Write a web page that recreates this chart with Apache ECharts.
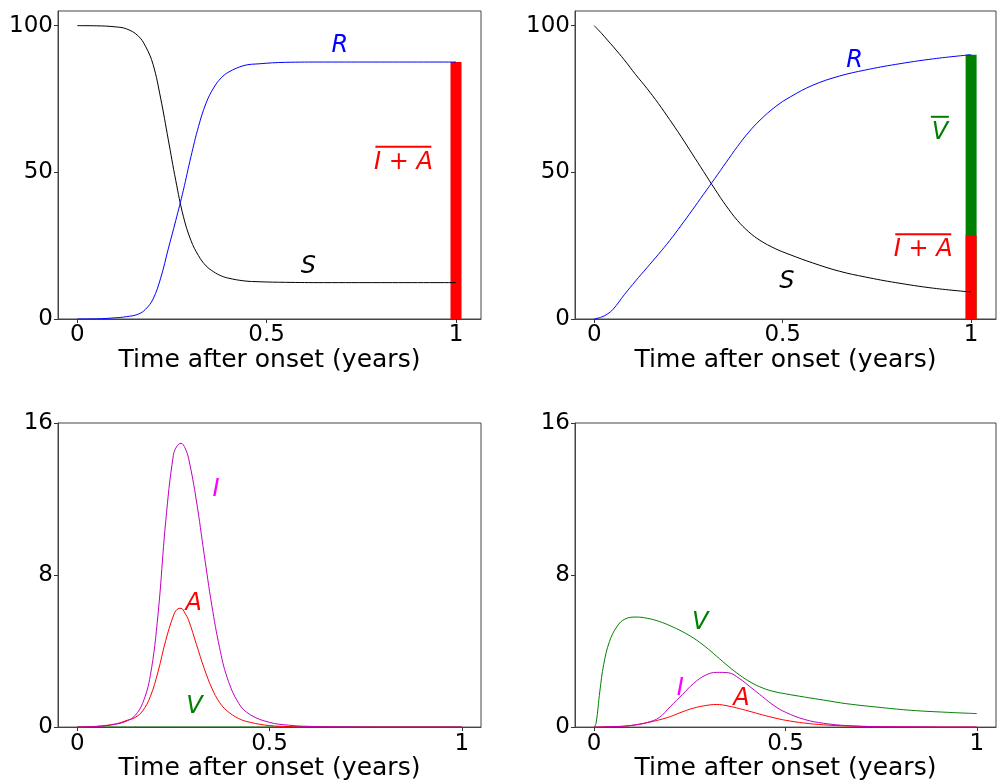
<!DOCTYPE html>
<html>
<head>
<meta charset="utf-8">
<script src="https://cdn.jsdelivr.net/npm/echarts@6/dist/echarts.min.js"></script>
<style>
  html, body { margin: 0; padding: 0; background: #fff; }
  #chart { width: 997px; height: 782px; }
</style>
</head>
<body>
<div id="chart"></div>
<script>
// ---- values ----

// top-left: S and R, no vaccination
const tlTime = [0, 0.05, 0.1, 0.13, 0.16, 0.18, 0.2, 0.22, 0.24, 0.26, 0.28, 0.3, 0.32, 0.34, 0.36, 0.38, 0.4, 0.44, 0.48, 0.55, 0.65, 0.8, 1.0];
const tlS = [100, 99.95, 99.6, 98.9, 96.6, 93.0, 86.8, 75.3, 61.3, 47.2, 35.0, 26.8, 21.6, 18.1, 16.1, 14.7, 13.9, 13.0, 12.7, 12.5, 12.4, 12.4, 12.4];
const tlR = [0, 0.05, 0.4, 0.8, 1.6, 3.3, 6.8, 13.9, 23.8, 33.6, 43.9, 55.3, 65.6, 73.6, 78.8, 82.2, 84.2, 86.4, 87.0, 87.5, 87.6, 87.6, 87.6];
const tlBarIA = [87.6];

// top-right: S and R, with vaccination
const trTime = [0, 0.02, 0.035, 0.05, 0.08, 0.11, 0.14, 0.17, 0.2, 0.23, 0.26, 0.29, 0.32, 0.35, 0.38, 0.41, 0.44, 0.48, 0.52, 0.58, 0.65, 0.72, 0.8, 0.9, 1.0];
const trS = [100, 97.3, 95.1, 92.9, 88.3, 83.3, 78.6, 73.5, 68.0, 62.3, 56.3, 50.3, 44.3, 38.6, 33.6, 29.7, 26.8, 24.0, 21.9, 19.1, 16.3, 14.3, 12.4, 10.5, 9.2];
const trR = [0, 0.7, 1.7, 3.3, 8.3, 13.0, 17.5, 22.0, 26.7, 31.8, 37.1, 42.5, 47.9, 53.4, 58.8, 63.7, 67.8, 72.3, 75.7, 79.7, 82.8, 84.9, 86.8, 88.7, 90.1];
const trBarIA = [28.5];
const trBarV = [61.6];

// bottom-left: I, A, V, no vaccination
const blTime = [0, 0.05, 0.1, 0.13, 0.15, 0.17, 0.19, 0.21, 0.23, 0.25, 0.26, 0.27, 0.28, 0.29, 0.31, 0.33, 0.35, 0.37, 0.39, 0.42, 0.45, 0.5, 0.55, 0.6, 0.7, 0.85, 1.0];
const blI = [0, 0.03, 0.15, 0.33, 0.6, 1.25, 2.7, 5.9, 10.8, 14.3, 14.8, 14.93, 14.7, 14.1, 11.9, 9.1, 6.4, 4.2, 2.6, 1.25, 0.65, 0.25, 0.1, 0.04, 0.01, 0, 0];
const blA = [0, 0.04, 0.17, 0.36, 0.5, 0.85, 1.6, 2.9, 4.55, 5.85, 6.2, 6.25, 6.0, 5.6, 4.35, 3.1, 2.05, 1.3, 0.85, 0.45, 0.25, 0.08, 0.03, 0.01, 0, 0, 0];
const blV = [0, 0, 0, 0, 0, 0, 0, 0, 0, 0, 0, 0, 0, 0, 0, 0, 0, 0, 0, 0, 0, 0, 0, 0, 0, 0, 0];

// bottom-right: I, A, V, with vaccination
const brTime = [0, 0.005, 0.015, 0.025, 0.04, 0.06, 0.08, 0.11, 0.14, 0.17, 0.2, 0.23, 0.26, 0.29, 0.32, 0.35, 0.38, 0.41, 0.44, 0.47, 0.5, 0.55, 0.6, 0.66, 0.75, 0.83, 0.92, 1.0];
const brV = [0, 0.2, 1.9, 3.3, 4.5, 5.3, 5.68, 5.79, 5.72, 5.56, 5.32, 5.03, 4.68, 4.24, 3.73, 3.21, 2.74, 2.35, 2.06, 1.87, 1.75, 1.58, 1.42, 1.23, 1.03, 0.88, 0.78, 0.71];
const brI = [0, 0, 0, 0.01, 0.02, 0.03, 0.05, 0.13, 0.25, 0.5, 1.1, 1.7, 2.3, 2.72, 2.88, 2.86, 2.55, 2.08, 1.6, 1.13, 0.78, 0.4, 0.2, 0.08, 0.02, 0.01, 0, 0];
const brA = [0, 0, 0, 0.01, 0.02, 0.03, 0.05, 0.12, 0.24, 0.38, 0.56, 0.8, 1.0, 1.13, 1.19, 1.11, 0.97, 0.81, 0.64, 0.49, 0.36, 0.21, 0.12, 0.06, 0.02, 0.01, 0, 0];

const xTicks = [0, 0.5, 1];
const topYTicks = [0, 50, 100];
const botYTicks = [0, 8, 16];

// ---- chart ----
const FONT = 'DejaVu Sans';
const C = { S: '#000000', R: '#0000ff', I: '#bf00bf', Ilabel: '#ff00ff', A: '#ff0000', V: '#008000' };
const SPINE = '#444';

const zip = (t, v) => t.map((x, i) => [x, v[i]]);

const grids = [
  { left: 58, top: 11, width: 423, height: 308 },
  { left: 575, top: 11, width: 421, height: 308 },
  { left: 58, top: 423, width: 423, height: 308 },
  { left: 575, top: 423, width: 421, height: 308 }
].map(g => Object.assign({ show: true, borderColor: SPINE, borderWidth: 1, backgroundColor: '#fff' }, g));

function xAxis(i, min, max) {
  return {
    type: 'value', gridIndex: i, min: min, max: max,
    name: 'Time after onset (years)', nameLocation: 'middle', nameGap: 27,
    nameTextStyle: { fontFamily: FONT, fontSize: 25, color: '#000' },
    axisLine: { show: true, onZero: false, lineStyle: { color: SPINE, width: 1 } },
    axisTick: { show: true, length: 4, customValues: xTicks, lineStyle: { color: '#333' } },
    axisLabel: { customValues: xTicks, margin: 5, fontFamily: FONT, fontSize: 23, color: '#000',
      formatter: v => String(v) },
    splitLine: { show: false }
  };
}
function yAxis(i, max, ticks) {
  return {
    type: 'value', gridIndex: i, min: 0, max: max,
    axisLine: { show: true, onZero: false, lineStyle: { color: SPINE, width: 1 } },
    axisTick: { show: true, length: 4, customValues: ticks, lineStyle: { color: '#333' } },
    axisLabel: { customValues: ticks, margin: 5, fontFamily: FONT, fontSize: 23, color: '#000' },
    splitLine: { show: false }
  };
}

function line(i, t, v, color) {
  return {
    type: 'line', xAxisIndex: i, yAxisIndex: i, data: zip(t, v),
    showSymbol: false, smooth: 0.4, silent: true,
    lineStyle: { color: color, width: 1 }, z: 3
  };
}
// bars sit on top of each other at t = 1; the lower block is drawn last
function bar(i, v, color, z) {
  return {
    type: 'bar', xAxisIndex: i, yAxisIndex: i, barWidth: 11, barGap: '-100%',
    data: v.map(y => [1, y]), itemStyle: { color: color }, silent: true, z: z
  };
}

const txt = { fontFamily: FONT, fontSize: 24, fontStyle: 'italic' };
function labels(i, items) {
  return {
    type: 'scatter', xAxisIndex: i, yAxisIndex: i, symbolSize: 0, silent: true, z: 10,
    itemStyle: { opacity: 1 },
    data: items.map(it => ({
      value: [it.t, it.v],
      label: Object.assign({
        show: true, position: 'inside', color: it.color, formatter: it.text,
        rich: it.bar ? {
          o: { width: it.bar, height: 2, lineHeight: 6, backgroundColor: it.color },
          t: Object.assign({ color: it.color, lineHeight: 26 }, txt)
        } : undefined
      }, txt)
    }))
  };
}

const option = {
  animation: false,
  backgroundColor: '#fff',
  grid: grids,
  xAxis: [xAxis(0, -0.051, 1.066), xAxis(1, -0.051, 1.066), xAxis(2, -0.05, 1.05), xAxis(3, -0.05, 1.05)],
  yAxis: [yAxis(0, 105, topYTicks), yAxis(1, 105, topYTicks), yAxis(2, 16, botYTicks), yAxis(3, 16, botYTicks)],
  series: [
    bar(0, tlBarIA, C.A, 2),
    line(0, tlTime, tlS, C.S),
    line(0, tlTime, tlR, C.R),
    labels(0, [
      { text: 'R', t: 0.693, v: 93.2, color: C.R },
      { text: 'S', t: 0.61, v: 17.9, color: C.S },
      { text: '{o|\u00a0}\n{t|I + A}', t: 0.861, v: 54.3, color: C.A, bar: 56 }
    ]),

    bar(1, trBarV.map((v, k) => v + trBarIA[k]), C.V, 1),
    bar(1, trBarIA, C.A, 2),
    line(1, trTime, trS, C.S),
    line(1, trTime, trR, C.R),
    labels(1, [
      { text: 'R', t: 0.691, v: 88.1, color: C.R },
      { text: 'S', t: 0.511, v: 12.8, color: C.S },
      { text: '{o|\u00a0}\n{t|V}', t: 0.917, v: 64.5, color: C.V, bar: 18 },
      { text: '{o|\u00a0}\n{t|I + A}', t: 0.873, v: 24.5, color: C.A, bar: 56 }
    ]),

    line(2, blTime, blV, C.V),
    line(2, blTime, blA, C.A),
    line(2, blTime, blI, C.I),
    labels(2, [
      { text: 'I', t: 0.361, v: 12.5, color: C.Ilabel },
      { text: 'A', t: 0.303, v: 6.5, color: C.A },
      { text: 'V', t: 0.305, v: 1.05, color: C.V }
    ]),

    line(3, brTime, brV, C.V),
    line(3, brTime, brA, C.A),
    line(3, brTime, brI, C.I),
    labels(3, [
      { text: 'V', t: 0.277, v: 5.5, color: C.V },
      { text: 'I', t: 0.225, v: 2.0, color: C.Ilabel },
      { text: 'A', t: 0.385, v: 1.47, color: C.A }
    ])
  ]
};

const chart = echarts.init(document.getElementById('chart'), null, { renderer: 'canvas' });
chart.setOption(option);
</script>
</body>
</html>
